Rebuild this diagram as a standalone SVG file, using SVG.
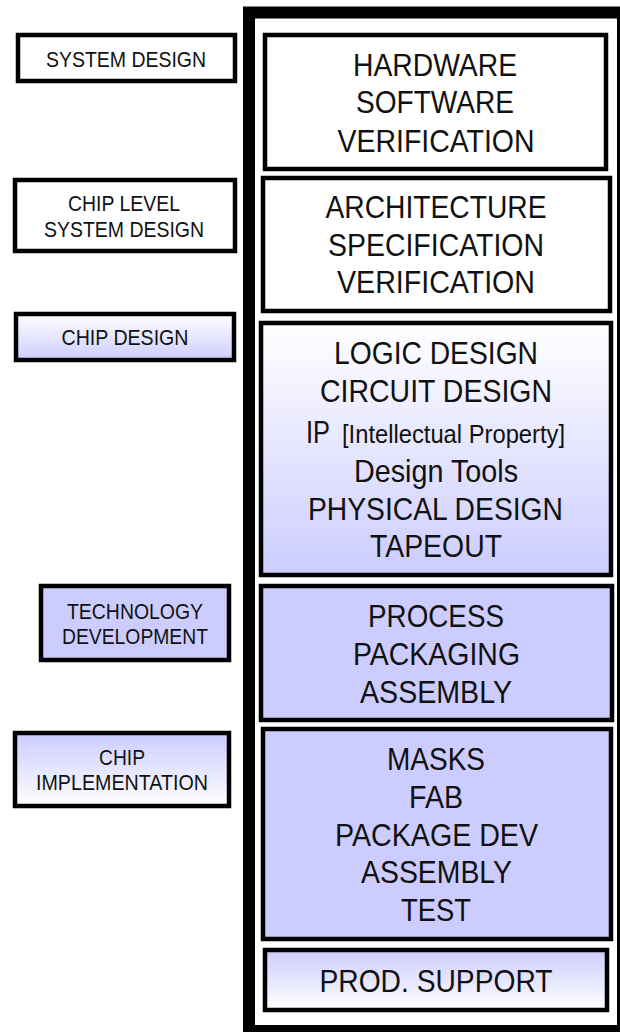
<svg xmlns="http://www.w3.org/2000/svg" width="620" height="1032" viewBox="0 0 620 1032">
<defs>
<linearGradient id="gDown" x1="0" y1="0" x2="0" y2="1"><stop offset="0" stop-color="#ffffff"/><stop offset="1" stop-color="#ccccff"/></linearGradient>
<linearGradient id="gUp" x1="0" y1="0" x2="0" y2="1"><stop offset="0" stop-color="#ccccff"/><stop offset="1" stop-color="#ffffff"/></linearGradient>
<style>
.box{stroke:#000;stroke-width:4.5}
.w{fill:#fff}
.l{fill:#ccccff}
.d{fill:url(#gDown)}
.u{fill:url(#gUp)}
text{font-family:"Liberation Sans Narrow","Liberation Sans",Arial,sans-serif;fill:#111;text-anchor:middle}
.s{font-size:22px}
.b{font-size:32px}
.m{font-size:26px}
</style>
</defs>
<rect x="0" y="0" width="620" height="1032" fill="#fff"/>
<rect id="frame" x="249" y="12.5" width="374" height="1018.5" fill="none" stroke="#000" stroke-width="12"/>

<g id="system-design">
<rect class="box w" x="18" y="35" width="217" height="46"/>
<text class="s" x="126" y="67" textLength="160" lengthAdjust="spacingAndGlyphs">SYSTEM DESIGN</text>
</g>
<g id="chip-level-system-design">
<rect class="box w" x="15" y="180" width="220" height="71"/>
<text class="s" x="124" y="211" textLength="112" lengthAdjust="spacingAndGlyphs">CHIP LEVEL</text>
<text class="s" x="124" y="237" textLength="160" lengthAdjust="spacingAndGlyphs">SYSTEM DESIGN</text>
</g>
<g id="chip-design">
<rect class="box d" x="16" y="314" width="218" height="46"/>
<text class="s" x="125" y="345" textLength="127" lengthAdjust="spacingAndGlyphs">CHIP DESIGN</text>
</g>
<g id="technology-development">
<rect class="box l" x="41" y="586" width="188" height="74"/>
<text class="s" x="135" y="619" textLength="136" lengthAdjust="spacingAndGlyphs">TECHNOLOGY</text>
<text class="s" x="135" y="644" textLength="146" lengthAdjust="spacingAndGlyphs">DEVELOPMENT</text>
</g>
<g id="chip-implementation">
<rect class="box u" x="15" y="733" width="214" height="73"/>
<text class="s" x="122" y="765" textLength="46" lengthAdjust="spacingAndGlyphs">CHIP</text>
<text class="s" x="122" y="790" textLength="172" lengthAdjust="spacingAndGlyphs">IMPLEMENTATION</text>
</g>

<g id="hw-sw-verification">
<rect class="box w" x="265" y="35" width="341" height="134"/>
<text class="b" x="435" y="76" textLength="164" lengthAdjust="spacingAndGlyphs">HARDWARE</text>
<text class="b" x="435" y="113" textLength="158" lengthAdjust="spacingAndGlyphs">SOFTWARE</text>
<text class="b" x="436" y="152" textLength="197" lengthAdjust="spacingAndGlyphs">VERIFICATION</text>
</g>
<g id="arch-spec-verification">
<rect class="box w" x="263" y="178" width="347" height="133"/>
<text class="b" x="436" y="218" textLength="221" lengthAdjust="spacingAndGlyphs">ARCHITECTURE</text>
<text class="b" x="436" y="256" textLength="216" lengthAdjust="spacingAndGlyphs">SPECIFICATION</text>
<text class="b" x="436" y="293" textLength="198" lengthAdjust="spacingAndGlyphs">VERIFICATION</text>
</g>
<g id="chip-design-tasks">
<rect class="box d" x="261" y="323" width="350" height="252"/>
<text class="b" x="436" y="364" textLength="204" lengthAdjust="spacingAndGlyphs">LOGIC DESIGN</text>
<text class="b" x="436" y="402" textLength="232" lengthAdjust="spacingAndGlyphs">CIRCUIT DESIGN</text>
<text class="b" x="318" y="443" textLength="24" lengthAdjust="spacingAndGlyphs">IP</text>
<text class="m" x="453.5" y="443" textLength="223" lengthAdjust="spacingAndGlyphs">[Intellectual Property]</text>
<text class="b" x="436" y="482" textLength="164" lengthAdjust="spacingAndGlyphs">Design Tools</text>
<text class="b" x="435.5" y="520" textLength="255" lengthAdjust="spacingAndGlyphs">PHYSICAL DESIGN</text>
<text class="b" x="436" y="557" textLength="132" lengthAdjust="spacingAndGlyphs">TAPEOUT</text>
</g>
<g id="technology-tasks">
<rect class="box l" x="261" y="586" width="351" height="134"/>
<text class="b" x="436" y="627" textLength="136" lengthAdjust="spacingAndGlyphs">PROCESS</text>
<text class="b" x="436.5" y="665" textLength="167" lengthAdjust="spacingAndGlyphs">PACKAGING</text>
<text class="b" x="436" y="703" textLength="152" lengthAdjust="spacingAndGlyphs">ASSEMBLY</text>
</g>
<g id="implementation-tasks">
<rect class="box l" x="263" y="729" width="348" height="210"/>
<text class="b" x="436" y="770" textLength="98" lengthAdjust="spacingAndGlyphs">MASKS</text>
<text class="b" x="436" y="808" textLength="54" lengthAdjust="spacingAndGlyphs">FAB</text>
<text class="b" x="436.5" y="846" textLength="203" lengthAdjust="spacingAndGlyphs">PACKAGE DEV</text>
<text class="b" x="436.5" y="883" textLength="151" lengthAdjust="spacingAndGlyphs">ASSEMBLY</text>
<text class="b" x="436" y="921" textLength="70" lengthAdjust="spacingAndGlyphs">TEST</text>
</g>
<g id="prod-support">
<rect class="box u" x="265" y="950" width="342" height="60"/>
<text class="b" x="436" y="992" textLength="233" lengthAdjust="spacingAndGlyphs">PROD. SUPPORT</text>
</g>
<g id="connectors"/>
</svg>
